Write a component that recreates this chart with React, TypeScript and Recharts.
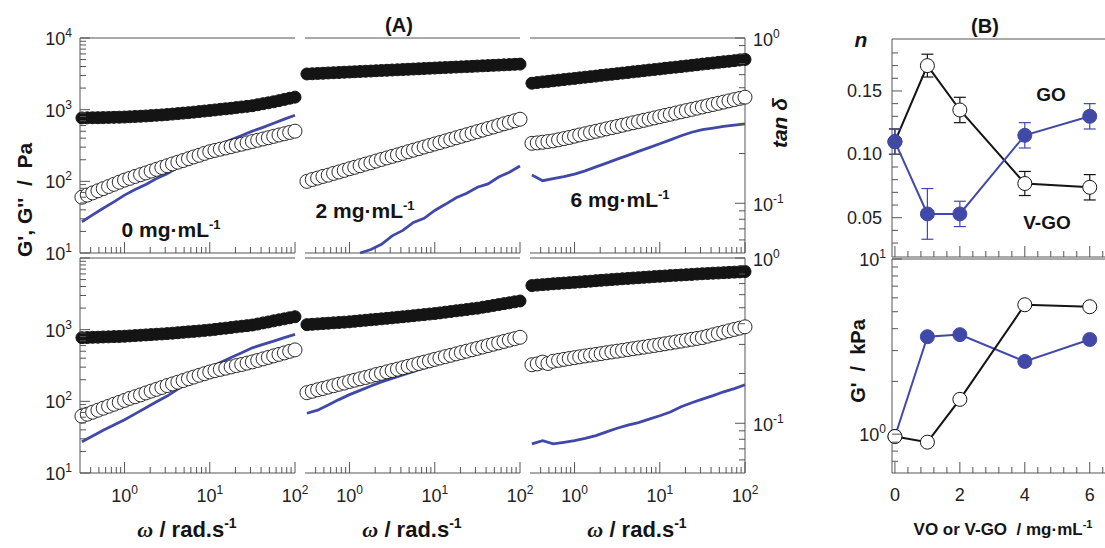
import { ComposedChart, Line, XAxis, YAxis, ReferenceLine, ErrorBar } from "recharts";

const FONT = "'Liberation Sans', Arial, Helvetica, sans-serif";
const SERIF = "'Liberation Serif', 'DejaVu Serif', serif";
const AXIS = "#555";
const LABEL = "#222";
const INK = "#141414";
const BLUE = "#4149a8";

// frequency grid (rad/s); tan delta was read at every second frequency
const omega = [
  0.316, 0.365, 0.422, 0.487, 0.562, 0.649, 0.75, 0.866, 1, 1.15, 1.33, 1.54, 1.78, 2.05, 2.37, 2.74, 3.16, 3.65,
  4.22, 4.87, 5.62, 6.49, 7.5, 8.66, 10, 11.5, 13.3, 15.4, 17.8, 20.5, 23.7, 27.4, 31.6, 36.5, 42.2, 48.7, 56.2,
  64.9, 75, 86.6, 100,
];

// top row
const gp1_0 = [767, 769, 771, 773, 775, 778, 782, 785, 789, 796, 803, 809, 817, 826, 836, 845, 855, 868, 881, 895, 908, 924, 940, 957, 973, 991, 1010, 1028, 1047, 1069, 1091, 1112, 1135, 1172, 1211, 1247, 1288, 1337, 1390, 1442, 1496];
const gpp1_0 = [60, 64.3, 68.9, 73.8, 79.1, 84.7, 90.8, 97.3, 104, 110, 117, 124, 131, 139, 147, 156, 165, 175, 185, 195, 207, 219, 231, 245, 259, 270, 281, 292, 305, 318, 330, 344, 359, 374, 390, 406, 424, 443, 461, 481, 501];
const tan1_0 = [0.0773, 0.0851, 0.0933, 0.102, 0.112, 0.121, 0.13, 0.141, 0.151, 0.165, 0.18, 0.197, 0.215, 0.228, 0.242, 0.257, 0.273, 0.288, 0.305, 0.323, 0.341];

const gp1_2 = [3150, 3170, 3200, 3220, 3250, 3275, 3300, 3330, 3355, 3380, 3410, 3435, 3460, 3490, 3520, 3545, 3575, 3600, 3630, 3660, 3690, 3720, 3750, 3780, 3810, 3840, 3870, 3900, 3930, 3960, 3990, 4020, 4055, 4090, 4120, 4155, 4185, 4220, 4255, 4290, 4320];
const gpp1_2 = [100, 106, 111, 117, 122, 129, 135, 142, 150, 157, 165, 174, 182, 192, 202, 212, 223, 234, 246, 259, 272, 286, 301, 316, 332, 348, 366, 385, 405, 426, 447, 470, 494, 519, 546, 573, 603, 634, 665, 700, 735];
const tan1_2 = [null, null, null, null, null, 0.05, 0.0525, 0.0565, 0.0635, 0.0685, 0.0765, 0.081, 0.0905, 0.0985, 0.108, 0.115, 0.125, 0.131, 0.144, 0.154, 0.168];

const gp1_6 = [2340, 2390, 2440, 2480, 2530, 2580, 2630, 2680, 2730, 2780, 2840, 2890, 2940, 3010, 3060, 3120, 3180, 3240, 3300, 3370, 3430, 3500, 3570, 3630, 3700, 3780, 3850, 3920, 3990, 4070, 4150, 4230, 4320, 4400, 4480, 4570, 4660, 4740, 4830, 4930, 5020];
const gpp1_6 = [339, 344, 351, 359, 367, 380, 394, 409, 427, 444, 461, 480, 499, 519, 540, 561, 583, 607, 631, 656, 682, 710, 738, 767, 798, 830, 863, 897, 933, 971, 1009, 1050, 1091, 1135, 1180, 1227, 1276, 1327, 1380, 1435, 1493];
const tan1_6 = [0.148, 0.137, 0.141, 0.145, 0.15, 0.157, 0.166, 0.175, 0.185, 0.195, 0.206, 0.217, 0.229, 0.242, 0.256, 0.269, 0.279, 0.285, 0.292, 0.297, 0.302];

// bottom row
const gp2_0 = [773, 776, 782, 785, 791, 794, 800, 804, 809, 818, 826, 836, 845, 853, 863, 871, 881, 893, 906, 920, 933, 946, 959, 975, 989, 1009, 1030, 1050, 1072, 1094, 1117, 1138, 1161, 1199, 1242, 1282, 1327, 1371, 1416, 1466, 1514];
const gpp2_0 = [62.1, 66.2, 70.5, 75.2, 80.2, 85.3, 91, 96.8, 103, 110, 116, 123, 131, 139, 147, 156, 166, 175, 185, 195, 207, 218, 231, 243, 257, 268, 279, 290, 302, 315, 327, 341, 355, 372, 391, 410, 431, 452, 474, 498, 522];
const tan2_0 = [0.0773, 0.0838, 0.0908, 0.0977, 0.105, 0.114, 0.124, 0.135, 0.146, 0.161, 0.178, 0.197, 0.218, 0.233, 0.25, 0.267, 0.286, 0.3, 0.314, 0.33, 0.345];

const gp2_2 = [1175, 1189, 1202, 1216, 1230, 1245, 1259, 1274, 1288, 1309, 1330, 1352, 1374, 1393, 1416, 1439, 1462, 1489, 1514, 1542, 1567, 1596, 1622, 1652, 1679, 1714, 1754, 1791, 1832, 1871, 1910, 1954, 1995, 2056, 2113, 2178, 2239, 2307, 2371, 2443, 2512];
const gpp2_2 = [132, 138, 145, 151, 158, 165, 173, 180, 189, 197, 206, 215, 225, 236, 246, 258, 269, 281, 294, 308, 321, 337, 352, 367, 385, 402, 420, 439, 459, 480, 501, 525, 548, 573, 600, 627, 655, 685, 716, 748, 783];
const tan2_2 = [0.115, 0.12, 0.129, 0.139, 0.149, 0.158, 0.168, 0.178, 0.187, 0.196, 0.206, 0.216, 0.226, 0.238, 0.249, 0.262, 0.274, 0.287, 0.3, 0.307, 0.311];

const gp2_6 = [4120, 4190, 4250, 4300, 4370, 4420, 4470, 4520, 4570, 4630, 4690, 4750, 4820, 4880, 4940, 5000, 5070, 5130, 5190, 5250, 5310, 5370, 5430, 5500, 5560, 5610, 5680, 5730, 5790, 5850, 5900, 5970, 6030, 6080, 6140, 6180, 6240, 6300, 6350, 6400, 6460];
const gpp2_6 = [324, 333, 353, 337, 363, 373, 385, 396, 407, 418, 430, 441, 452, 463, 476, 489, 501, 514, 528, 542, 556, 570, 586, 601, 617, 635, 653, 673, 692, 713, 733, 755, 776, 811, 847, 883, 923, 964, 1007, 1050, 1096];
const tan2_6 = [0.075, 0.0785, 0.075, 0.0767, 0.0785, 0.0809, 0.0841, 0.0887, 0.0933, 0.0973, 0.101, 0.106, 0.111, 0.117, 0.126, 0.133, 0.14, 0.147, 0.155, 0.162, 0.171];

// panel (B)
const conc = [0, 1, 2, 4, 6];
const nGO = [0.11, 0.17, 0.135, 0.077, 0.074];
const nGOErr = [0.01, 0.009, 0.01, 0.0095, 0.01];
const nVGO = [0.11, 0.053, 0.053, 0.115, 0.13];
const nVGOErr = [0.01, 0.02, 0.01, 0.01, 0.01];
const gGO = [0.97, 0.9, 1.58, 5.48, 5.34];
const gVGO = [0.97, 3.6, 3.7, 2.6, 3.47];

// ticks
const wTicks = [0.4, 0.5, 0.6, 0.7, 0.8, 0.9, 1, 2, 3, 4, 5, 6, 7, 8, 9, 10, 20, 30, 40, 50, 60, 70, 80, 90, 100];
const wMajors = [1, 10, 100];
const gTicks = [10, 20, 30, 40, 50, 60, 70, 80, 90, 100, 200, 300, 400, 500, 600, 700, 800, 900, 1000, 2000, 3000, 4000, 5000, 6000, 7000, 8000, 9000, 10000];
const gMajors = [10, 100, 1000, 10000];
const tTicks = [0.06, 0.07, 0.08, 0.09, 0.1, 0.2, 0.3, 0.4, 0.5, 0.6, 0.7, 0.8, 0.9, 1];
const tMajors = [0.1, 1];
const cTicks = [0, 0.4, 0.8, 1.2, 1.6, 2, 2.4, 2.8, 3.2, 3.6, 4, 4.4, 4.8, 5.2, 5.6, 6, 6.4];
const cMajors = [0, 2, 4, 6];
const nTicks = [0.03, 0.04, 0.05, 0.06, 0.07, 0.08, 0.09, 0.1, 0.11, 0.12, 0.13, 0.14, 0.15, 0.16, 0.17, 0.18];
const nMajors = [0.05, 0.1, 0.15];
const kTicks = [0.7, 0.8, 0.9, 1, 2, 3, 4, 5, 6, 7, 8, 9, 10];
const kMajors = [1, 10];

const oneOf = (v: number, list: number[]) => list.some((m) => (m === 0 ? v === 0 : Math.abs(v / m - 1) < 1e-6));

function Pow({ x, y, anchor, v }: { x: number; y: number; anchor: string; v: number }) {
  return (
    <text x={x} y={y} textAnchor={anchor} fontFamily={FONT} fontSize={18} fill={LABEL}>
      10
      <tspan dy={-8} fontSize={12}>
        {Math.round(Math.log10(v))}
      </tspan>
    </text>
  );
}

function BottomTick(props: any) {
  const { x, y, payload, majors, labelled, plain } = props;
  const v = payload.value;
  const major = oneOf(v, majors);
  return (
    <g>
      <line x1={x} y1={y} x2={x} y2={y - (major ? 11 : 6)} stroke={AXIS} />
      {major && labelled ? (
        plain ? (
          <text x={x} y={y + 28} textAnchor="middle" fontFamily={FONT} fontSize={18} fill={LABEL}>
            {v}
          </text>
        ) : (
          <Pow x={x} y={y + 29} anchor="middle" v={v} />
        )
      ) : null}
    </g>
  );
}

function SideTick(props: any) {
  const { x, y, payload, majors, labelled, side, fixed, gap = 8 } = props;
  const v = payload.value;
  const major = oneOf(v, majors);
  const dir = side === "left" ? 1 : -1;
  const show = major && oneOf(v, labelled);
  const lx = side === "left" ? x - gap : x + gap;
  const anchor = side === "left" ? "end" : "start";
  return (
    <g>
      <line x1={x} y1={y} x2={x + dir * (major ? 10 : 6)} y2={y} stroke={AXIS} />
      {show ? (
        fixed ? (
          <text x={lx} y={y + 6} textAnchor={anchor} fontFamily={FONT} fontSize={18} fill={LABEL}>
            {v.toFixed(2)}
          </text>
        ) : (
          <Pow x={lx} y={y + (side === "left" ? 7 : 8)} anchor={anchor} v={v} />
        )
      ) : null}
    </g>
  );
}

// axes get a 1px band (a zero-size axis is not drawn), the margins absorb it
const PW = 215;
const PH = 215;

type SweepProps = {
  left: number;
  top: number;
  row: number;
  col: number;
  gp: number[];
  gpp: number[];
  tan: (number | null)[];
};

function Sweep({ left, top, row, col, gp, gpp, tan }: SweepProps) {
  const rows = omega.map((w, i) => ({
    w,
    gp: gp[i],
    gpp: gpp[i],
    tan: i % 2 === 0 ? tan[i / 2] : null,
  }));
  const first = col === 0;
  const last = col === 2;
  const m = { top: 20, right: last ? 59 : 60, bottom: 44, left: 59 };
  return (
    <div style={{ position: "absolute", left: left - 60, top: top - 20 }}>
      <ComposedChart width={PW + 120} height={PH + 65} data={rows} margin={m}>
        <XAxis
          dataKey="w"
          type="number"
          scale="log"
          domain={[0.3, 100]}
          ticks={wTicks}
          interval={0}
          height={1}
          tickSize={0}
          tickMargin={0}
          tickLine={false}
          axisLine={{ stroke: AXIS }}
          tick={<BottomTick majors={wMajors} labelled={row === 2} />}
        />
        <YAxis
          yAxisId="g"
          type="number"
          scale="log"
          domain={[10, 10000]}
          ticks={gTicks}
          interval={0}
          width={1}
          tickSize={0}
          tickMargin={0}
          tickLine={false}
          axisLine={first ? { stroke: AXIS } : false}
          tick={first ? <SideTick side="left" majors={gMajors} labelled={row === 1 ? gMajors : [10, 100, 1000]} /> : false}
        />
        <YAxis
          yAxisId="t"
          orientation="right"
          type="number"
          scale="log"
          domain={[0.05, 1]}
          ticks={tTicks}
          interval={0}
          width={1}
          tickSize={0}
          tickMargin={0}
          tickLine={false}
          hide={!last}
          axisLine={{ stroke: AXIS }}
          tick={<SideTick side="right" majors={tMajors} labelled={tMajors} />}
        />
        <ReferenceLine yAxisId="g" y={10000} stroke={AXIS} />
        <Line yAxisId="g" dataKey="gp" stroke="none" dot={{ r: 6, fill: INK, stroke: INK, strokeWidth: 1 }} activeDot={false} isAnimationActive={false} />
        <Line yAxisId="g" dataKey="gpp" stroke="none" dot={{ r: 7, fill: "#fff", stroke: INK, strokeWidth: 0.9 }} activeDot={false} isAnimationActive={false} />
        <Line yAxisId="t" dataKey="tan" stroke={BLUE} strokeWidth={2.8} dot={false} activeDot={false} connectNulls isAnimationActive={false} />
      </ComposedChart>
    </div>
  );
}

const BL = 892;
const BW = 213;
const BM = { top: 20, right: 2, bottom: 44, left: 59 };

function IndexPanel() {
  const rows = conc.map((c, i) => ({ c, go: nGO[i], goErr: nGOErr[i], vgo: nVGO[i], vgoErr: nVGOErr[i] }));
  const h = 218;
  return (
    <div style={{ position: "absolute", left: BL - 60, top: 39 - 20 }}>
      <ComposedChart width={BW + 62} height={h + 65} data={rows} margin={BM}>
        <XAxis dataKey="c" type="number" domain={[-0.09, 6.47]} ticks={cTicks} interval={0} height={1} tickSize={0} tickMargin={0} tickLine={false} axisLine={{ stroke: AXIS }} tick={<BottomTick majors={cMajors} labelled={false} />} />
        <YAxis type="number" domain={[0.019, 0.191]} ticks={nTicks} interval={0} width={1} tickSize={0} tickMargin={0} tickLine={false} axisLine={{ stroke: AXIS }} tick={<SideTick side="left" majors={nMajors} labelled={nMajors} fixed gap={10} />} />
        <ReferenceLine y={0.191} stroke={AXIS} />
        <Line dataKey="go" stroke={INK} strokeWidth={2} dot={{ r: 7, fill: "#fff", stroke: INK, strokeWidth: 1 }} activeDot={false} isAnimationActive={false}>
          <ErrorBar dataKey="goErr" width={6} stroke={INK} strokeWidth={1.2} direction="y" />
        </Line>
        <Line dataKey="vgo" stroke={BLUE} strokeWidth={2} dot={{ r: 7, fill: BLUE, stroke: BLUE, strokeWidth: 1 }} activeDot={false} isAnimationActive={false}>
          <ErrorBar dataKey="vgoErr" width={6} stroke={BLUE} strokeWidth={1.2} direction="y" />
        </Line>
      </ComposedChart>
    </div>
  );
}

function ModulusPanel() {
  const rows = conc.map((c, i) => ({ c, go: gGO[i], vgo: gVGO[i] }));
  const h = 214;
  return (
    <div style={{ position: "absolute", left: BL - 60, top: 259 - 20 }}>
      <ComposedChart width={BW + 62} height={h + 65} data={rows} margin={BM}>
        <XAxis dataKey="c" type="number" domain={[-0.09, 6.47]} ticks={cTicks} interval={0} height={1} tickSize={0} tickMargin={0} tickLine={false} axisLine={{ stroke: AXIS }} tick={<BottomTick majors={cMajors} labelled plain />} />
        <YAxis type="number" scale="log" domain={[0.6, 10]} ticks={kTicks} interval={0} width={1} tickSize={0} tickMargin={0} tickLine={false} axisLine={{ stroke: AXIS }} tick={<SideTick side="left" majors={kMajors} labelled={kMajors} gap={6} />} />
        <ReferenceLine y={10} stroke={AXIS} />
        <Line dataKey="vgo" stroke={BLUE} strokeWidth={2} dot={{ r: 7, fill: BLUE, stroke: BLUE, strokeWidth: 1 }} activeDot={false} isAnimationActive={false} />
        <Line dataKey="go" stroke={INK} strokeWidth={2} dot={{ r: 7, fill: "#fff", stroke: INK, strokeWidth: 1 }} activeDot={false} isAnimationActive={false} />
      </ComposedChart>
    </div>
  );
}

const cols = [80, 305, 530];
const rowsTop = [38, 258];

function Omega({ x }: { x: number }) {
  return (
    <text x={x} y={537} textAnchor="middle" fontSize={22} fontWeight="bold" fill={INK}>
      <tspan fontFamily={SERIF} fontStyle="italic">ω</tspan> / rad.s
      <tspan dy={-9} fontSize={14}>-1</tspan>
    </text>
  );
}

function Conc({ x, y, c }: { x: number; y: number; c: string }) {
  return (
    <text x={x} y={y} textAnchor="middle" fontSize={21} fontWeight="bold" fill={INK}>
      {c} mg·mL
      <tspan dy={-8} fontSize={13}>-1</tspan>
    </text>
  );
}

export default function App() {
  return (
    <div style={{ position: "absolute", left: 0, top: 0, width: 1105, height: 548, overflow: "hidden", background: "#fff", fontFamily: FONT }}>
      <Sweep left={cols[0]} top={rowsTop[0]} row={1} col={0} gp={gp1_0} gpp={gpp1_0} tan={tan1_0} />
      <Sweep left={cols[1]} top={rowsTop[0]} row={1} col={1} gp={gp1_2} gpp={gpp1_2} tan={tan1_2} />
      <Sweep left={cols[2]} top={rowsTop[0]} row={1} col={2} gp={gp1_6} gpp={gpp1_6} tan={tan1_6} />
      <Sweep left={cols[0]} top={rowsTop[1]} row={2} col={0} gp={gp2_0} gpp={gpp2_0} tan={tan2_0} />
      <Sweep left={cols[1]} top={rowsTop[1]} row={2} col={1} gp={gp2_2} gpp={gpp2_2} tan={tan2_2} />
      <Sweep left={cols[2]} top={rowsTop[1]} row={2} col={2} gp={gp2_6} gpp={gpp2_6} tan={tan2_6} />
      <IndexPanel />
      <ModulusPanel />
      <svg width={1105} height={548} style={{ position: "absolute", left: 0, top: 0, pointerEvents: "none" }} fontFamily={FONT}>
        <text x={399} y={32} textAnchor="middle" fontSize={20} fontWeight="bold" fill={INK}>(A)</text>
        <text x={985} y={33} textAnchor="middle" fontSize={20} fontWeight="bold" fill={INK}>(B)</text>
        <text transform="translate(32,200) rotate(-90)" textAnchor="middle" fontSize={21} fontWeight="bold" fill={INK} xmlSpace="preserve">
          {"G', G''  /  Pa"}
        </text>
        <text transform="translate(787,123) rotate(-90)" textAnchor="middle" fontSize={21} fontWeight="bold" fontStyle="italic" fill={INK}>
          tan δ
        </text>
        <text x={861} y={47} textAnchor="middle" fontSize={21} fontWeight="bold" fontStyle="italic" fill={INK}>n</text>
        <text transform="translate(865,361) rotate(-90)" textAnchor="middle" fontSize={20} fontWeight="bold" fill={INK} xmlSpace="preserve">
          {"G'  /  kPa"}
        </text>
        <Conc x={171} y={237} c="0" />
        <Conc x={365} y={218} c="2" />
        <Conc x={620} y={207} c="6" />
        <text x={1051} y={101} textAnchor="middle" fontSize={19} fontWeight="bold" fill={INK}>GO</text>
        <text x={1047} y={229} textAnchor="middle" fontSize={19} fontWeight="bold" fill={INK}>V-GO</text>
        <Omega x={187} />
        <Omega x={412} />
        <Omega x={637} />
        <text x={1003} y={535} textAnchor="middle" fontSize={17} fontWeight="bold" fill={INK} xmlSpace="preserve">
          {"VO or V-GO  / mg·mL"}
          <tspan dy={-7} fontSize={11}>-1</tspan>
        </text>
      </svg>
    </div>
  );
}
